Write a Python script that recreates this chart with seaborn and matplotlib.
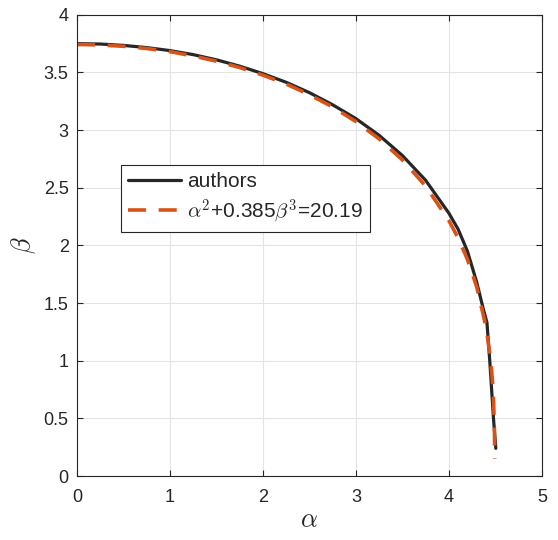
import numpy as np
import pandas as pd
import matplotlib
matplotlib.use("Agg")
import matplotlib.pyplot as plt
import seaborn as sns

# ============================================================
# DATA
# ============================================================

authors_alpha = [0.0, 0.25, 0.5, 0.75, 1.0, 1.25, 1.5, 1.75, 2.0, 2.25,
                 2.5, 2.75, 3.0, 3.25, 3.5, 3.75, 4.0, 4.1, 4.2, 4.3,
                 4.37, 4.41, 4.44, 4.48, 4.505]
authors_beta = [3.75, 3.747, 3.735, 3.716, 3.69, 3.655, 3.61, 3.555, 3.49, 3.415,
                3.325, 3.22, 3.10, 2.955, 2.78, 2.565, 2.28, 2.14, 1.95, 1.68,
                1.45, 1.33, 1.00, 0.50, 0.24]

fit_alpha = [0.0, 0.25, 0.5, 0.75, 1.0, 1.25, 1.5, 1.75, 2.0, 2.25,
             2.5, 2.75, 3.0, 3.25, 3.5, 3.75, 4.0, 4.1, 4.2, 4.3,
             4.4, 4.45, 4.47, 4.48, 4.49, 4.493]
fit_beta = [3.743, 3.739, 3.727, 3.708, 3.681, 3.643, 3.598, 3.543, 3.477, 3.400,
            3.307, 3.201, 3.074, 2.924, 2.742, 2.515, 2.216, 2.063, 1.878, 1.640,
            1.292, 1.002, 0.816, 0.677, 0.427, 0.15]

labels = ["authors", r"$\alpha^{\mathsf{2}}$+0.385$\beta^{\mathsf{3}}$=20.19"]

x_ticks = [0, 1, 2, 3, 4, 5]
y_ticks = [0, 0.5, 1, 1.5, 2, 2.5, 3, 3.5, 4]

# ============================================================
# STYLE
# ============================================================

sns.set_theme(style="white")
plt.rcParams["font.family"] = ["Liberation Sans", "DejaVu Sans"]
plt.rcParams["mathtext.fontset"] = "cm"

AX_COLOR = "#262626"

df_auth = pd.DataFrame({"alpha": authors_alpha, "beta": authors_beta})
df_fit = pd.DataFrame({"alpha": fit_alpha, "beta": fit_beta})

fig = plt.figure(figsize=(5.58, 5.40), dpi=100)
ax = fig.add_axes([0.138, 0.1185, 0.833, 0.854])

sns.lineplot(
    data=df_auth, x="alpha", y="beta", ax=ax,
    sort=False, estimator=None,
    color="#262626", lw=2.3, label=labels[0]
)

sns.lineplot(
    data=df_fit, x="alpha", y="beta", ax=ax,
    sort=False, estimator=None,
    color="#D95319", lw=2.6, label=labels[1]
)
ax.lines[1].set_dashes((5, 3.5))

ax.set_xlim(0, 5)
ax.set_ylim(0, 4)
ax.set_xticks(x_ticks)
ax.set_yticks(y_ticks)
ax.set_yticklabels([f"{t:g}" for t in y_ticks])

ax.grid(True, color="#e3e3e3", lw=0.8)
ax.set_axisbelow(True)

for sp in ax.spines.values():
    sp.set_visible(True)
    sp.set_color(AX_COLOR)
    sp.set_linewidth(0.8)

ax.tick_params(
    direction="in", length=4, width=0.8,
    top=True, right=True, bottom=True, left=True,
    colors=AX_COLOR, labelsize=13, pad=6
)
ax.tick_params(axis="x", pad=9)

ax.set_xlabel(r"$\alpha$", fontsize=19, color=AX_COLOR, labelpad=2)
ax.set_ylabel(r"$\beta$", fontsize=19, color=AX_COLOR, labelpad=4)

leg = ax.legend(
    loc="upper left", bbox_to_anchor=(0.095, 0.675),
    fontsize=15, frameon=True, fancybox=False,
    edgecolor=AX_COLOR, framealpha=1,
    handlelength=2.5, handletextpad=0.3,
    borderpad=0.35, labelspacing=0.3, borderaxespad=0
)
leg.get_frame().set_linewidth(0.8)

plt.savefig("out.png", dpi=100)
plt.close()
